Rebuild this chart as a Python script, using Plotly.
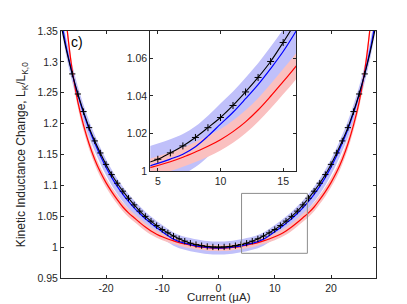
import plotly.graph_objects as go

# ---- data ----
current = [-28, -27, -26, -25, -24, -23, -22, -21, -20, -19, -18, -17, -16, -15, -14,
           -13, -12, -11, -10, -9, -8, -7, -6, -5, -4, -3, -2, -1, 0,
           1, 2, 3, 4, 5, 6, 7, 8, 9, 10, 11, 12, 13, 14,
           15, 16, 17, 18, 19, 20, 21, 22, 23, 24, 25, 26, 27, 28]

# measured points (black crosses), -26 .. 26 uA
meas_current = list(range(-26, 27))
meas_lk = [1.2805, 1.2480, 1.2195, 1.1935, 1.1720, 1.1525, 1.1340, 1.1175, 1.1035, 1.0906,
           1.0792, 1.0684, 1.0583, 1.0498, 1.0421, 1.0349, 1.0285, 1.0231, 1.0179, 1.0134,
           1.0097, 1.0063, 1.0041, 1.0024, 1.0011, 1.0003, 1.0000,
           1.0003, 1.0011, 1.0024, 1.0041, 1.0063, 1.0097, 1.0134, 1.0179, 1.0231, 1.0285,
           1.0349, 1.0421, 1.0498, 1.0583, 1.0684, 1.0792, 1.0906, 1.1035, 1.1175, 1.1340,
           1.1525, 1.1720, 1.1935, 1.2195, 1.2480, 1.2805]

# black fit line through the measurement
fit_lk = [1.3600, 1.3175, 1.2805, 1.2480, 1.2195, 1.1935, 1.1720, 1.1525, 1.1340, 1.1175,
          1.1035, 1.0906, 1.0792, 1.0684, 1.0583, 1.0498, 1.0421, 1.0349, 1.0285, 1.0231,
          1.0179, 1.0134, 1.0097, 1.0063, 1.0041, 1.0024, 1.0011, 1.0003, 1.0000,
          1.0003, 1.0011, 1.0024, 1.0041, 1.0063, 1.0097, 1.0134, 1.0179, 1.0231, 1.0285,
          1.0349, 1.0421, 1.0498, 1.0583, 1.0684, 1.0792, 1.0906, 1.1035, 1.1175, 1.1340,
          1.1525, 1.1720, 1.1935, 1.2195, 1.2480, 1.2805, 1.3175, 1.3600]

# blue model
blue_lk = [1.3700, 1.3210, 1.2810, 1.2465, 1.2170, 1.1910, 1.1685, 1.1480, 1.1295, 1.1130,
           1.0985, 1.0856, 1.0741, 1.0636, 1.0545, 1.0460, 1.0385, 1.0313, 1.0250, 1.0186,
           1.0130, 1.0090, 1.0064, 1.0041, 1.0021, 1.0006, 0.9994, 0.9987, 0.9985,
           0.9987, 0.9994, 1.0006, 1.0021, 1.0041, 1.0064, 1.0090, 1.0130, 1.0186, 1.0250,
           1.0313, 1.0385, 1.0460, 1.0545, 1.0636, 1.0741, 1.0856, 1.0985, 1.1130, 1.1295,
           1.1480, 1.1685, 1.1910, 1.2170, 1.2465, 1.2810, 1.3210, 1.3700]
blue_halfwidth = [0.0145, 0.0142, 0.0140, 0.0138, 0.0136, 0.0134, 0.0132, 0.0130, 0.0128, 0.0126,
                  0.0124, 0.0122, 0.0120, 0.0118, 0.0116, 0.0114, 0.0112, 0.0111, 0.0110, 0.0109,
                  0.0108, 0.0107, 0.0106, 0.0106, 0.0105, 0.0105, 0.0105, 0.0105, 0.0105,
                  0.0105, 0.0105, 0.0105, 0.0105, 0.0106, 0.0106, 0.0107, 0.0108, 0.0109, 0.0110,
                  0.0111, 0.0112, 0.0114, 0.0116, 0.0118, 0.0120, 0.0122, 0.0124, 0.0126, 0.0128,
                  0.0130, 0.0132, 0.0134, 0.0136, 0.0138, 0.0140, 0.0142, 0.0145]

# red model
red_lk = [1.4600, 1.3600, 1.2860, 1.2350, 1.1975, 1.1670, 1.1420, 1.1215, 1.1045, 1.0900,
          1.0770, 1.0650, 1.0555, 1.0476, 1.0398, 1.0325, 1.0262, 1.0210, 1.0167, 1.0132,
          1.0102, 1.0074, 1.0050, 1.0030, 1.0013, 1.0000, 0.9990, 0.9984, 0.9982,
          0.9984, 0.9990, 1.0000, 1.0013, 1.0030, 1.0050, 1.0074, 1.0102, 1.0132, 1.0167,
          1.0210, 1.0262, 1.0325, 1.0398, 1.0476, 1.0555, 1.0650, 1.0770, 1.0900, 1.1045,
          1.1215, 1.1420, 1.1670, 1.1975, 1.2350, 1.2860, 1.3600, 1.4600]
red_halfwidth = [0.0100, 0.0096, 0.0092, 0.0089, 0.0086, 0.0083, 0.0081, 0.0079, 0.0077, 0.0075,
                 0.0073, 0.0071, 0.0069, 0.0067, 0.0065, 0.0063, 0.0061, 0.0059, 0.0057, 0.0055,
                 0.0053, 0.0051, 0.0050, 0.0049, 0.0048, 0.0048, 0.0048, 0.0048, 0.0048,
                 0.0048, 0.0048, 0.0048, 0.0048, 0.0049, 0.0050, 0.0051, 0.0053, 0.0055, 0.0057,
                 0.0059, 0.0061, 0.0063, 0.0065, 0.0067, 0.0069, 0.0071, 0.0073, 0.0075, 0.0077,
                 0.0079, 0.0081, 0.0083, 0.0086, 0.0089, 0.0092, 0.0096, 0.0100]

main_xticks = [-20, -10, 0, 10, 20]
main_xticktext = ["-20", "-10", "0", "10", "20"]
main_yticks = [0.95, 1.0, 1.05, 1.1, 1.15, 1.2, 1.25, 1.3, 1.35]
main_yticktext = ["0.95", "1", "1.05", "1.1", "1.15", "1.2", "1.25", "1.3", "1.35"]
inset_xticks = [5, 10, 15]
inset_xticktext = ["5", "10", "15"]
inset_yticks = [1.0, 1.02, 1.04, 1.06]
inset_yticktext = ["1", "1.02", "1.04", "1.06"]

# ---- styling ----
BLUE_FILL = "rgb(192,192,250)"
RED_FILL = "rgb(250,192,192)"
AX = "#262626"
FONT = "Liberation Sans, Arial, sans-serif"

blue_lo = [c - h for c, h in zip(blue_lk, blue_halfwidth)]
blue_hi = [c + h for c, h in zip(blue_lk, blue_halfwidth)]
red_lo = [c - h for c, h in zip(red_lk, red_halfwidth)]
red_hi = [c + h for c, h in zip(red_lk, red_halfwidth)]

fig = go.Figure()


def add_set(xa, ya, msize):
    kw = dict(xaxis=xa, yaxis=ya, showlegend=False, hoverinfo="skip")
    fig.add_trace(go.Scatter(x=current, y=blue_lo, mode="lines", line=dict(width=0, shape="spline"), **kw))
    fig.add_trace(go.Scatter(x=current, y=blue_hi, mode="lines", line=dict(width=0, shape="spline"),
                             fill="tonexty", fillcolor=BLUE_FILL, **kw))
    fig.add_trace(go.Scatter(x=current, y=red_lo, mode="lines", line=dict(width=0, shape="spline"), **kw))
    fig.add_trace(go.Scatter(x=current, y=red_hi, mode="lines", line=dict(width=0, shape="spline"),
                             fill="tonexty", fillcolor=RED_FILL, **kw))
    fig.add_trace(go.Scatter(x=current, y=red_lk, mode="lines",
                             line=dict(color="#ff0000", width=1.2, shape="spline"), **kw))
    fig.add_trace(go.Scatter(x=current, y=blue_lk, mode="lines",
                             line=dict(color="#0000ff", width=1.2, shape="spline"), **kw))
    fig.add_trace(go.Scatter(x=current, y=fit_lk, mode="lines",
                             line=dict(color="#000000", width=1.1, shape="spline"), **kw))
    fig.add_trace(go.Scatter(x=meas_current, y=meas_lk, mode="markers",
                             marker=dict(symbol="cross-thin-open", size=msize, color="#000000",
                                         line=dict(color="#000000", width=1)), **kw))


add_set("x", "y", 4.5)
add_set("x2", "y2", 5)

axis_common = dict(showline=True, linecolor=AX, linewidth=1, mirror="ticks", ticks="inside",
                   ticklen=3, tickcolor=AX, showgrid=False, zeroline=False,
                   tickfont=dict(family=FONT, size=10.5, color=AX))

fig.update_layout(
    width=407, height=304,
    margin=dict(l=53, r=39, t=23, b=34),
    paper_bgcolor="white", plot_bgcolor="white",
    font=dict(family=FONT, color=AX),
    xaxis=dict(range=[-28, 28], tickvals=main_xticks, ticktext=main_xticktext, **axis_common),
    yaxis=dict(range=[0.95, 1.35], tickvals=main_yticks, ticktext=main_yticktext, **axis_common),
    xaxis2=dict(domain=[0.2835, 0.747], anchor="y2", range=[4.4, 16.05], tickvals=inset_xticks,
                ticktext=inset_xticktext, **axis_common),
    yaxis2=dict(domain=[0.4327, 1.0], anchor="x2", range=[1.0, 1.0745], tickvals=inset_yticks,
                ticktext=inset_yticktext, **axis_common),
    shapes=[dict(type="rect", xref="x", yref="y", x0=4.1, x1=15.8, y0=0.99, y1=1.087,
                 line=dict(color="#8c8c8c", width=1), fillcolor="rgba(0,0,0,0)")],
    annotations=[
        dict(text="c)", xref="paper", yref="paper", x=0.025, y=0.955,
             xanchor="left", yanchor="middle", showarrow=False,
             font=dict(family=FONT, size=14, color="#000000")),
        dict(text="Current (µA)", xref="paper", yref="paper", x=0.5, y=-0.078,
             xanchor="center", yanchor="middle", showarrow=False, borderpad=0,
             font=dict(family=FONT, size=11.5, color=AX)),
        dict(text="Kinetic Inductance Change, L<sub>K</sub>/L<sub>K,0</sub>",
             xref="paper", yref="paper", x=-0.125, y=0.5, textangle=-90,
             xanchor="center", yanchor="middle", showarrow=False,
             font=dict(family=FONT, size=12, color=AX)),
    ],
)

fig.write_html("out.html")
